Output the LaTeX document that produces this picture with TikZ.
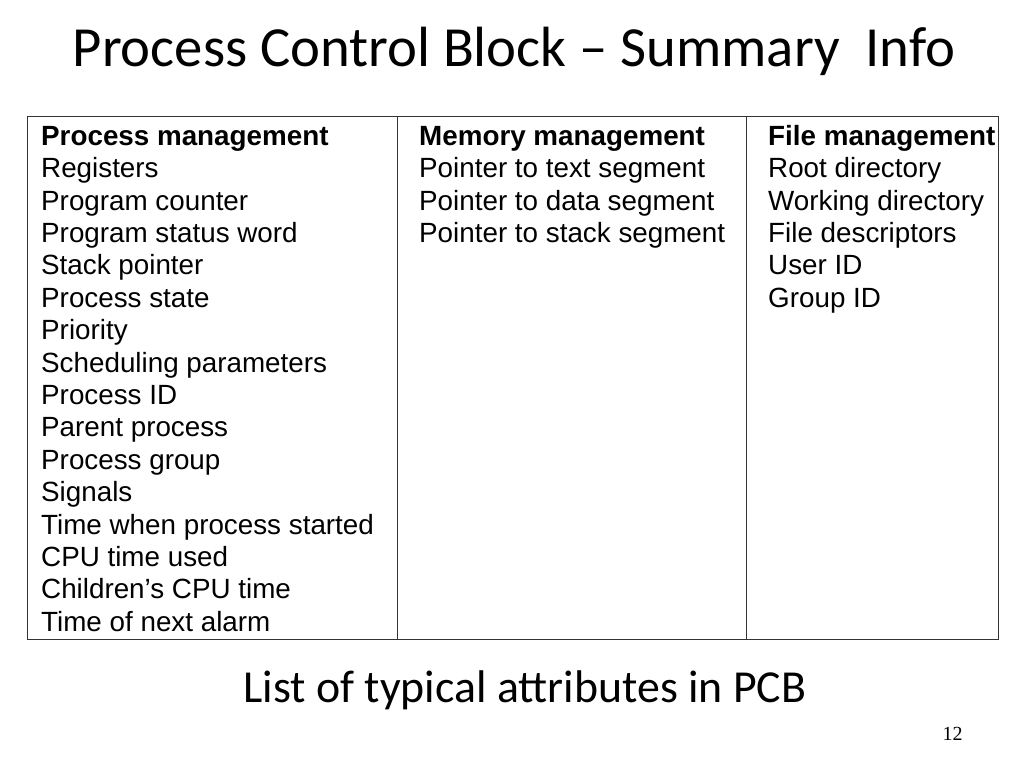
\documentclass[tikz,border=0pt]{standalone}
\usepackage{fontspec}
\setmainfont{Carlito}
\newfontfamily\arialf{Liberation Sans}
\newfontfamily\timesf{Liberation Serif}
\begin{document}
\begin{tikzpicture}[x=1pt,y=-1pt,
  cell/.style={anchor=base west,inner sep=0pt,font=\arialf\fontsize{27.8}{32.4}\selectfont},
  head/.style={cell,font=\arialf\bfseries\fontsize{27.8}{32.4}\selectfont},
  frame/.style={draw=black!80,line width=1pt}]
\useasboundingbox (0,0) rectangle (1024,768);
\node[anchor=base,inner sep=0pt,font=\fontsize{56.7}{62}\selectfont] (title) at (514,66.7) {Process Control Block -- Summary\ \ Info};
\draw[frame] (27,116) rectangle (998,639);
\coordinate (d1t) at (397,116); \coordinate (d1b) at (397,639);
\coordinate (d2t) at (746,116); \coordinate (d2b) at (746,639);
\draw[frame] (d1t) -- (d1b);
\draw[frame] (d2t) -- (d2b);
\node[head] (h1) at (41,145.3) {Process management};
\node[head] (h2) at (419,145.3) {Memory management};
\node[head] (h3) at (768,145.3) {File management};
\foreach \t [count=\i] in {Registers,Program counter,Program status word,Stack pointer,Process state,Priority,Scheduling parameters,Process ID,Parent process,Process group,Signals,Time when process started,CPU time used,Children’s CPU time,Time of next alarm}
  \node[cell] (a\i) at (41,145.3+32.4*\i) {\t};
\foreach \t [count=\i] in {Pointer to text segment,Pointer to data segment,Pointer to stack segment}
  \node[cell] (b\i) at (419,145.3+32.4*\i) {\t};
\foreach \t [count=\i] in {Root directory,Working directory,File descriptors,User ID,Group ID}
  \node[cell] (c\i) at (768,145.3+32.4*\i) {\t};
\node[anchor=base,inner sep=0pt,font=\fontsize{45.8}{50}\selectfont] (cap) at (525,702) {List of typical attributes in PCB};
\node[anchor=base,inner sep=0pt,font=\timesf\fontsize{20}{24}\selectfont] (pg) at (952.5,740) {12};
\end{tikzpicture}
\end{document}
